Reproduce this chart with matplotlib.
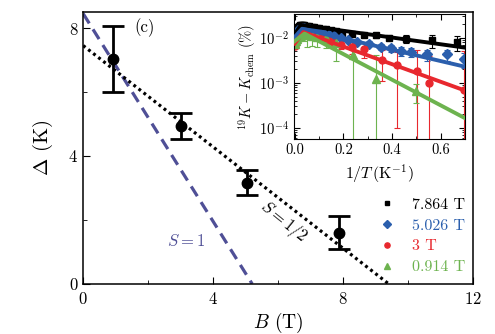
import matplotlib
matplotlib.use('Agg')
import matplotlib.pyplot as plt
import numpy as np

plt.rcParams['font.family'] = 'serif'
plt.rcParams['font.serif'] = ['cmr10', 'DejaVu Serif']
plt.rcParams['mathtext.fontset'] = 'cm'
plt.rcParams['axes.formatter.use_mathtext'] = True
plt.rcParams['axes.unicode_minus'] = False

# ---------------- main panel: gap vs field ----------------
field = [0.914, 3.0, 5.026, 7.864]
gap = [7.03, 4.93, 3.17, 1.60]
gap_err = [1.03, 0.40, 0.39, 0.52]

half_B = [0.0, 9.4]        # S = 1/2 line end points
half_gap = [7.45, 0.0]
one_B = [0.0, 5.2]         # S = 1 line end points
one_gap = [8.45, 0.0]

# ---------------- inset: Knight shift vs 1/T ----------------
bk_x = [0.0, 0.004, 0.008, 0.012, 0.016, 0.02, 0.025, 0.03, 0.035, 0.04, 0.05, 0.06, 0.07,
        0.08, 0.09, 0.1, 0.115, 0.13, 0.15, 0.17, 0.196, 0.237, 0.285, 0.333, 0.388, 0.457,
        0.565, 0.667]
bk_y = [0.0125, 0.014, 0.016, 0.0175, 0.0185, 0.019, 0.0195, 0.0195, 0.0193, 0.019, 0.0185,
        0.018, 0.0178, 0.0175, 0.017, 0.0168, 0.0162, 0.0158, 0.015, 0.0145, 0.0132, 0.0123,
        0.0118, 0.0114, 0.0102, 0.0096, 0.0088, 0.0082]
bk_err = [0.0006, 0.0006, 0.0006, 0.0006, 0.0006, 0.0006, 0.0006, 0.0006, 0.0006, 0.0006,
          0.0007, 0.0007, 0.0007, 0.0007, 0.0008, 0.0008, 0.0008, 0.0009, 0.0009, 0.0009,
          0.001, 0.001, 0.0011, 0.0012, 0.0013, 0.0019, 0.0028, 0.0030]

bl_x = [0.0, 0.005, 0.01, 0.015, 0.02, 0.03, 0.04, 0.05, 0.06, 0.07, 0.08, 0.1, 0.12, 0.14,
        0.16, 0.19, 0.22, 0.258, 0.306, 0.354, 0.395, 0.436, 0.477, 0.545, 0.628, 0.697]
bl_y = [0.0105, 0.012, 0.0135, 0.015, 0.016, 0.0165, 0.0163, 0.016, 0.0155, 0.015, 0.0145,
        0.0135, 0.0125, 0.0118, 0.011, 0.0100, 0.0092, 0.0083, 0.0075, 0.0064, 0.0059,
        0.0051, 0.0048, 0.0043, 0.0043, 0.0034]
bl_err = [0.0006, 0.0006, 0.0006, 0.0006, 0.0006, 0.0006, 0.0006, 0.0006, 0.0006, 0.0006,
          0.0007, 0.0007, 0.0007, 0.0008, 0.0008, 0.0008, 0.0009, 0.0009, 0.001, 0.001,
          0.001, 0.0011, 0.0011, 0.0012, 0.0012, 0.0012]

rd_x = [0.0, 0.005, 0.01, 0.015, 0.02, 0.03, 0.04, 0.05, 0.06, 0.07, 0.08, 0.1, 0.12, 0.14,
        0.16, 0.19, 0.237, 0.285, 0.36, 0.42, 0.504, 0.552, 0.697]
rd_y = [0.0065, 0.0085, 0.0105, 0.012, 0.013, 0.0135, 0.0133, 0.013, 0.0125, 0.012, 0.0113,
        0.0103, 0.0093, 0.0085, 0.0078, 0.0068, 0.0062, 0.0056, 0.0032, 0.0025, 0.0018,
        0.0010, 0.0007]
rd_err = [0.0005, 0.0005, 0.0005, 0.0005, 0.0005, 0.0005, 0.0005, 0.0006, 0.0006, 0.0006,
          0.0007, 0.0007, 0.0008, 0.0009, 0.001, 0.0012, 0.0018, 0.0021, 0.0021, 0.0024,
          0.0037, 0.0030, 0.0045]

gr_x = [0.0, 0.005, 0.01, 0.015, 0.02, 0.03, 0.04, 0.052, 0.07, 0.093, 0.128, 0.169, 0.241,
        0.336, 0.498]
gr_y = [0.0075, 0.0085, 0.0095, 0.0105, 0.011, 0.0118, 0.012, 0.0118, 0.011, 0.0105, 0.0098,
        0.0078, 0.0042, 0.0012, 0.00065]
gr_err = [0.0015, 0.0015, 0.0018, 0.002, 0.0025, 0.003, 0.0035, 0.0054, 0.0045, 0.0041,
          0.0039, 0.0048, 0.0050, 0.0030, 0.0003]

fit_x = {'bk': [0.0, 0.025, 0.7], 'bl': [0.0, 0.03, 0.7],
         'rd': [0.0, 0.035, 0.7], 'gr': [0.0, 0.04, 0.7]}
fit_y = {'bk': [0.012, 0.0195, 0.0061], 'bl': [0.0105, 0.016, 0.0023],
         'rd': [0.0075, 0.0135, 0.00068], 'gr': [0.0085, 0.0125, 0.000166]}

labels = ['7.864 T', '5.026 T', '3 T', '0.914 T']
colors = ['#000000', '#2b5fad', '#e8282e', '#6db34f']
markers = ['s', 'D', 'o', '^']
msizes = [4.5, 5, 5, 5.5]

fig = plt.figure(figsize=(4.95, 3.34), dpi=100)
ax = fig.add_axes([0.168, 0.150, 0.788, 0.814])

ax.plot(one_B, one_gap, color='#4f4f96', lw=2.3, dashes=(3.6, 2.2))
ax.plot(half_B, half_gap, color='black', lw=2.3, dashes=(0.9, 1.1))
ax.errorbar(field, gap, yerr=gap_err, fmt='o', color='black', ms=7.5, lw=2,
            capsize=8, capthick=2, zorder=5)

ax.text(3.15, 1.35, r'$S=1$', color='#4f4f96', fontsize=12, ha='center', va='center')
ax.text(6.15, 1.95, r'$S=1/2$', color='black', fontsize=12, ha='center', va='center',
        rotation=-39)
ax.text(1.9, 8.0, '(c)', fontsize=12, ha='center', va='center')

ax.set_xlim(0, 12)
ax.set_ylim(0, 8.5)
ax.set_xticks([0, 4, 8, 12])
ax.set_xticks([2, 6, 10], minor=True)
ax.set_yticks([0, 4, 8])
ax.set_yticks([2, 6], minor=True)
ax.tick_params(which='both', direction='in', labelsize=12)
ax.tick_params(which='major', length=5)
ax.tick_params(which='minor', length=3)
ax.tick_params(axis='x', pad=5)
ax.set_xlabel(r'$B$ (T)', fontsize=14, labelpad=3)
ax.set_ylabel(r'$\Delta$ (K)', fontsize=15, labelpad=10)
for s in ax.spines.values():
    s.set_linewidth(1.1)

# inset
ins = fig.add_axes([0.594, 0.584, 0.345, 0.374])
keys = ['bk', 'bl', 'rd', 'gr']
xs = [bk_x, bl_x, rd_x, gr_x]
ys = [bk_y, bl_y, rd_y, gr_y]
es = [bk_err, bl_err, rd_err, gr_err]
handles = []
for k, x, y, e, c, m, s, lab in zip(keys, xs, ys, es, colors, markers, msizes, labels):
    h = ins.errorbar(x, y, yerr=e, fmt=m, color=c, ms=s, lw=0.8, capsize=2.5,
                     capthick=0.8, label=lab)
    ins.plot(fit_x[k], fit_y[k], color=c, lw=2.8, zorder=4)
    handles.append(h[0])
ins.set_yscale('log')
ins.set_xlim(-0.003, 0.7)
ins.set_ylim(5.7e-5, 3.4e-2)
ins.set_xticks([0.0, 0.2, 0.4, 0.6])
ins.set_xticks([0.1, 0.3, 0.5], minor=True)
ins.set_xticklabels(['0.0', '0.2', '0.4', '0.6'])
ins.set_yticks([1e-4, 1e-3, 1e-2])
ins.tick_params(which='both', direction='in', top=True, right=True, labelsize=10.5)
ins.tick_params(which='major', length=4)
ins.tick_params(which='minor', length=2)
ins.tick_params(axis='x', pad=3)
ins.set_xlabel(r'$1/T\,(\mathrm{K}^{-1})$', fontsize=11.5, labelpad=4)
ins.set_ylabel(r'$^{19}K-K_{\rm chem}$ (%)', fontsize=10.5, labelpad=1)

leg = ax.legend(handles, labels, loc='lower right', bbox_to_anchor=(1.005, 0.0),
                frameon=False, fontsize=11.5, handlelength=1.0, handletextpad=1.1,
                labelspacing=0.42, borderaxespad=0.2, markerscale=0.75)
for t, c in zip(leg.get_texts(), colors):
    t.set_color(c)

fig.savefig('out.png', dpi=100)
